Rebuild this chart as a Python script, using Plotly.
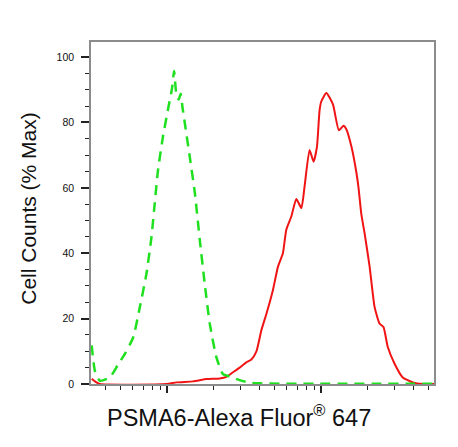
import plotly.graph_objects as go

# fluorescence intensity (linear units, log axis) and % of max counts
green_x = [324, 340, 366, 425, 481, 532, 603, 666, 735, 792, 832, 874, 942, 1014,
           1077, 1110, 1150, 1190, 1225, 1260, 1335, 1403, 1514, 1631, 1754, 1892,
           2089, 2307, 2553, 2958, 3436, 3990, 5370, 7244, 9772, 15311, 23930,
           37497, 54100]
green_y = [11.8, 4, 1, 2, 6, 9.2, 14.3, 23.6, 33.8, 45, 55.4, 65.6, 75.9, 84,
           90.5, 95.7, 88.5, 87, 88.8, 84.5, 76.5, 69.5, 58.5, 44, 30.8, 18.5,
           8.2, 3, 2.3, 1.2, 0.4, 0.2, 0.1, 0.1, 0.1, 0.1, 0.1,
           0.1, 0.1]

red_x = [324, 340, 366, 991, 1151, 1475, 1803, 2198, 2427, 2680, 2958, 3271, 3524,
         3802, 4093, 4416, 4864, 5248, 5649, 5943, 6412, 6902, 7447, 7816, 8414,
         8933, 9397, 9772, 10023, 10814, 11940, 13035, 13996, 14555, 15704, 16904,
         17500, 18239, 19143, 20654, 22233, 23930, 25410, 27102, 29992, 33884,
         39355, 45709, 54100]
red_y = [1.6, 0.8, 0, 0, 0.5, 0.8, 1.5, 1.7, 2.2, 3.6, 5.0, 6.6, 7.5,
         10, 16.4, 21.5, 28.7, 35.9, 40, 47.2, 51.3, 56.6, 53.8, 60.5, 71.6,
         68, 72.5, 83.7, 86.4, 89, 85.5, 77.6, 79, 78, 72.8, 65,
         60, 52, 46.2, 35.9, 23.6, 18.5, 17.4, 11.3, 6.2, 2.0,
         0.5, 0, 0]

y_ticks = [0, 20, 40, 60, 80, 100]
x_major = [1000, 10000]
x_minor = [m * d for d in (100, 1000, 10000) for m in range(2, 10)]

fig = go.Figure()
fig.add_trace(go.Scatter(x=red_x, y=red_y, mode="lines",
                         line=dict(color="#f01414", width=2, shape="spline", smoothing=0.5)))
fig.add_trace(go.Scatter(x=green_x, y=green_y, mode="lines",
                         line=dict(color="#1ee01e", width=2.5, dash="10px,7px",
                                   shape="spline", smoothing=0.5)))

fig.update_xaxes(type="log", range=[2.506, 4.733], showgrid=False, zeroline=False,
                 showline=True, linecolor="#8c8c8c", linewidth=1.5, mirror=True,
                 tickvals=x_major, ticks="outside", ticklen=7, tickwidth=1.5,
                 tickcolor="#222", showticklabels=False,
                 minor=dict(tickvals=x_minor, ticks="outside", ticklen=4,
                            tickwidth=1.2, tickcolor="#222", showgrid=False))
fig.update_yaxes(range=[0, 104.6], showgrid=False, zeroline=False,
                 showline=True, linecolor="#8c8c8c", linewidth=1.5, mirror=True,
                 tickvals=y_ticks, ticks="outside", ticklen=8, tickwidth=1.5,
                 tickcolor="#222", ticklabelstandoff=5,
                 tickfont=dict(family="Liberation Sans, Arial", size=10.5, color="#111"),
                 minor=dict(dtick=5, ticks="outside", ticklen=4, tickwidth=1.2,
                            tickcolor="#222", showgrid=False))

fig.add_annotation(text="Cell Counts (% Max)", xref="paper", yref="paper",
                   x=-0.181, y=0.515, textangle=-90, showarrow=False,
                   xanchor="center", yanchor="middle",
                   font=dict(family="Liberation Sans, Arial", size=21, color="#111"))
fig.add_annotation(text="PSMA6-Alexa Fluor<sup>®</sup> 647", xref="paper", yref="paper",
                   x=0.432, y=-0.093, showarrow=False,
                   xanchor="center", yanchor="middle",
                   font=dict(family="Liberation Sans, Arial", size=23.5, color="#111"))

# page body adds an 8px offset, so the figure is sized to fit inside it
fig.update_layout(width=450, height=439, showlegend=False,
                  margin=dict(l=83, r=23.5, t=34, b=62.7),
                  plot_bgcolor="white", paper_bgcolor="white")
fig.write_html("out.html")
